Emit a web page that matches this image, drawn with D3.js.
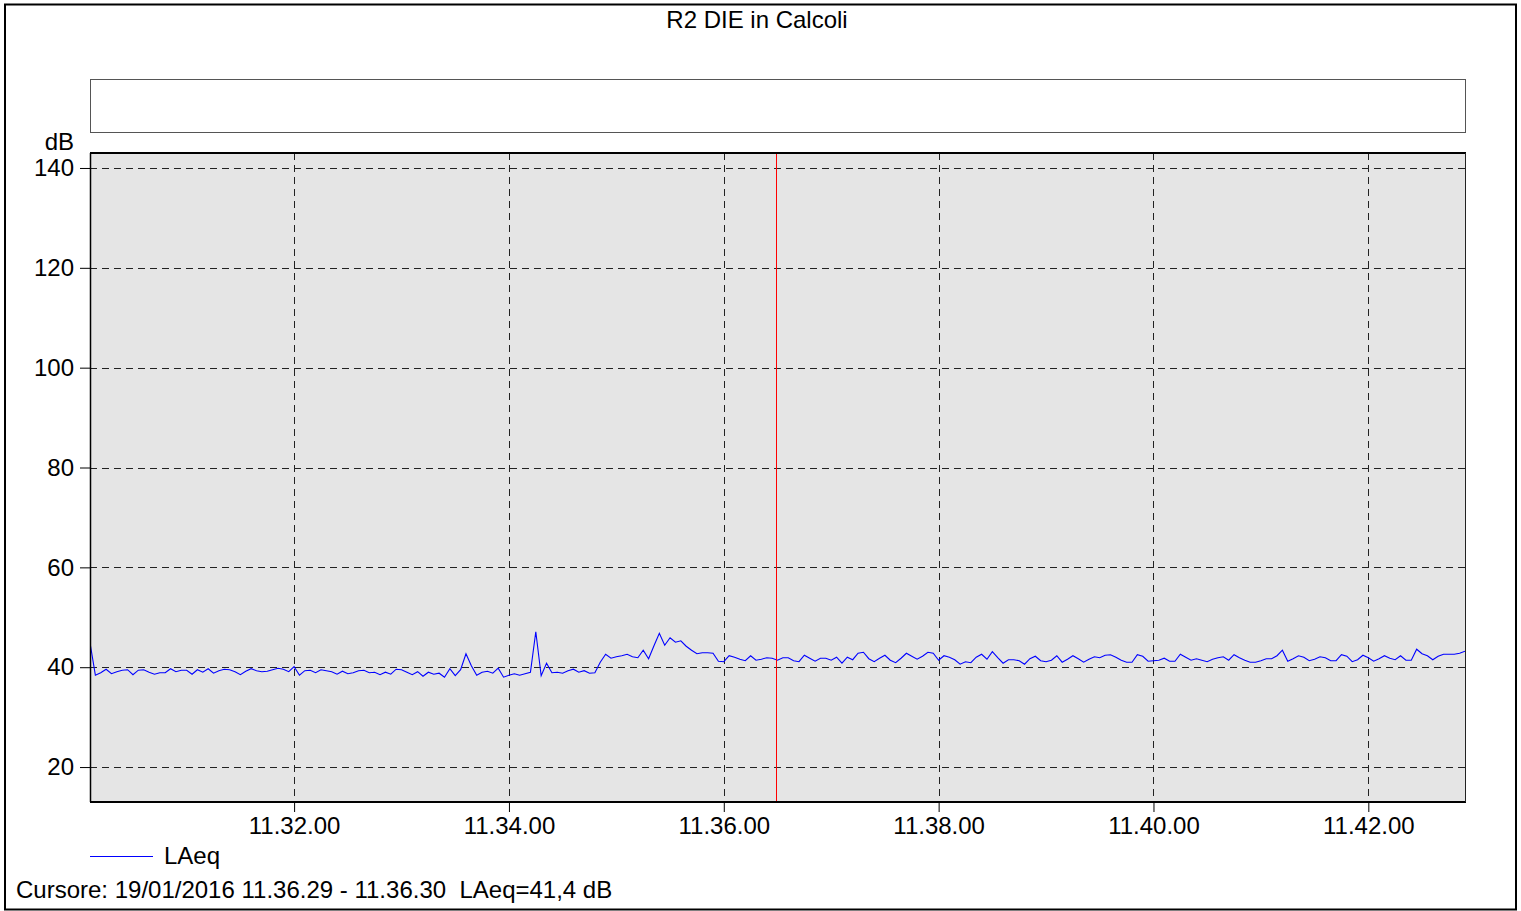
<!DOCTYPE html>
<html>
<head>
<meta charset="utf-8">
<script src="https://cdn.jsdelivr.net/npm/d3@7"></script>
<style>
  html, body { margin: 0; padding: 0; background: #fff; }
  svg { display: block; font-family: "Liberation Sans", Arial, sans-serif; }
  text { white-space: pre; }
</style>
</head>
<body>
<svg id="chart" width="1521" height="911"></svg>
<script>
// ---- data ----
const chartTitle = "R2 DIE in Calcoli";
const seriesName = "LAeq";
const yUnit = "dB";
const startTime = "11:30:06";   // first sample
const stepSeconds = 3;          // sample interval
const endTime = "11:42:54";
const cursorTime = "11:36:29.5";
const cursorText = "Cursore: 19/01/2016 11.36.29 - 11.36.30  LAeq=41,4 dB";
const yTicks = [20, 40, 60, 80, 100, 120, 140];
const xTicks = ["11:32:00", "11:34:00", "11:36:00", "11:38:00", "11:40:00", "11:42:00"];
const yDomain = [13, 143];
const laeq = [
  44.9, 38.4, 38.9, 39.6, 38.7, 39.1, 39.4, 39.5, 38.5, 39.4,
  39.5, 39.0, 38.6, 38.9, 38.9, 39.7, 39.1, 39.4, 39.4, 38.6,
  39.5, 39.0, 39.7, 38.8, 39.3, 39.6, 39.5, 39.1, 38.5, 39.2,
  39.7, 39.3, 39.1, 39.2, 39.5, 39.8, 39.6, 39.1, 40.1, 38.4,
  39.3, 39.4, 38.9, 39.5, 39.3, 39.1, 38.6, 39.2, 38.7, 38.9,
  39.3, 39.4, 38.9, 39.0, 38.5, 39.0, 38.6, 39.6, 39.5, 39.0,
  38.5, 39.1, 38.2, 39.0, 38.6, 38.8, 38.0, 39.7, 38.3, 39.5,
  42.7, 40.3, 38.4, 39.0, 39.2, 38.8, 39.8, 38.0, 38.4, 38.7,
  38.4, 38.7, 39.0, 47.1, 38.3, 40.8, 38.9, 39.0, 38.8, 39.3,
  39.6, 39.0, 39.3, 38.8, 38.9, 41.0, 42.6, 41.8, 42.1, 42.3,
  42.6, 42.1, 41.9, 43.4, 41.7, 44.3, 46.8, 44.4, 45.9, 45.0,
  45.3, 44.2, 43.4, 42.7, 42.9, 42.9, 42.8, 41.2, 41.1, 42.3,
  42.0, 41.6, 41.3, 42.3, 41.4, 41.6, 41.9, 41.8, 41.4, 41.9,
  41.9, 41.3, 41.1, 42.4, 41.8, 41.2, 41.8, 41.8, 41.4, 42.0,
  40.8, 42.0, 41.5, 42.8, 43.0, 41.7, 41.1, 41.8, 42.4, 41.4,
  40.9, 41.8, 42.8, 42.2, 41.6, 42.2, 43.0, 42.8, 41.4, 42.3,
  42.0, 41.5, 40.6, 41.1, 40.9, 42.0, 42.6, 41.6, 43.1, 41.9,
  40.8, 41.5, 41.5, 41.3, 40.6, 41.7, 42.2, 41.3, 41.1, 41.4,
  42.3, 41.0, 41.6, 42.3, 41.7, 41.0, 41.6, 42.1, 41.9, 42.4,
  42.5, 42.0, 41.4, 41.0, 41.0, 42.5, 42.2, 41.2, 41.3, 41.4,
  41.8, 41.2, 41.2, 42.6, 42.0, 41.4, 41.7, 41.4, 41.1, 41.6,
  41.9, 42.1, 41.4, 42.5, 41.9, 41.4, 41.0, 41.0, 41.3, 41.7,
  41.7, 42.3, 43.4, 41.2, 41.7, 42.3, 42.0, 41.3, 41.6, 42.1,
  41.9, 41.3, 41.3, 42.5, 42.2, 41.1, 41.5, 42.4, 41.9, 41.2,
  41.7, 42.3, 41.8, 41.5, 42.3, 41.4, 41.4, 43.6, 42.7, 42.3,
  41.5, 42.2, 42.6, 42.6, 42.6, 42.8, 43.2
];

// ---- build ----
const parseT = d3.timeParse("%H:%M:%S");
const parseTL = d3.timeParse("%H:%M:%S.%L");
const t0 = parseT(startTime);
const points = laeq.map((v, i) => ({ t: new Date(t0.getTime() + i * stepSeconds * 1000), v }));

const svg = d3.select("#chart");
const font = 24;
const ff = "Liberation Sans, Arial, sans-serif";

// outer frame
svg.append("rect").attr("x", 5).attr("y", 4.5).attr("width", 1511).attr("height", 905)
  .attr("fill", "#fff").attr("stroke", "#000").attr("stroke-width", 2);

// title
svg.append("text").attr("x", 757).attr("y", 28).attr("text-anchor", "middle")
  .attr("font-size", font).attr("fill", "#000").text(chartTitle);

const L = 90, R = 1465, T = 153, B = 802;

// empty header box
svg.append("rect").attr("x", L + 0.5).attr("y", 79.5).attr("width", R - L).attr("height", 53)
  .attr("fill", "#fff").attr("stroke", "#555").attr("stroke-width", 1);

const x = d3.scaleTime().domain([t0, parseT(endTime)]).range([L, R]);
const y = d3.scaleLinear().domain(yDomain).range([B, T]);

// plot background
svg.append("rect").attr("x", L).attr("y", T).attr("width", R - L).attr("height", B - T)
  .attr("fill", "#e5e5e5");

// grid
const grid = svg.append("g").attr("stroke", "#222").attr("stroke-width", 1)
  .attr("stroke-dasharray", "7,5").attr("shape-rendering", "crispEdges");
grid.selectAll("line.h").data(yTicks).join("line").attr("class", "h")
  .attr("x1", L).attr("x2", R).attr("y1", d => Math.round(y(d)) + 0.5).attr("y2", d => Math.round(y(d)) + 0.5);
grid.selectAll("line.v").data(xTicks.map(parseT)).join("line").attr("class", "v")
  .attr("y1", T).attr("y2", B).attr("x1", d => Math.round(x(d)) + 0.5).attr("x2", d => Math.round(x(d)) + 0.5);

// axes
const yAxis = d3.axisLeft(y).tickValues(yTicks).tickSize(10).tickPadding(6).tickFormat(d3.format("d"));
const gy = svg.append("g").attr("transform", `translate(${L},0)`).call(yAxis);
gy.select(".domain").remove();
gy.selectAll("text").attr("font-size", font).attr("font-family", ff).attr("fill", "#000");
gy.selectAll("line").attr("stroke", "#000");

const xAxis = d3.axisBottom(x).tickValues(xTicks.map(parseT)).tickSize(10).tickPadding(5)
  .tickFormat(d3.timeFormat("%H.%M.%S"));
const gx = svg.append("g").attr("transform", `translate(0,${B})`).call(xAxis);
gx.select(".domain").remove();
gx.selectAll("text").attr("font-size", font).attr("font-family", ff).attr("fill", "#000");
gx.selectAll("line").attr("stroke", "#000");

// unit
svg.append("text").attr("x", 74).attr("y", 150).attr("text-anchor", "end")
  .attr("font-size", font).attr("fill", "#000").text(yUnit);

// series line
const clipId = "plotclip";
svg.append("clipPath").attr("id", clipId).append("rect")
  .attr("x", L).attr("y", T).attr("width", R - L).attr("height", B - T);
svg.append("path").datum(points)
  .attr("clip-path", `url(#${clipId})`)
  .attr("fill", "none").attr("stroke", "#0000ff").attr("stroke-width", 1.1)
  .attr("d", d3.line().x(d => x(d.t)).y(d => y(d.v)));

// cursor
const cx = Math.round(x(parseTL(cursorTime))) + 0.5;
svg.append("line").attr("x1", cx).attr("x2", cx).attr("y1", T).attr("y2", B)
  .attr("stroke", "#ff0000").attr("stroke-width", 1).attr("shape-rendering", "crispEdges");

// plot border
svg.append("line").attr("x1", L).attr("x2", R + 1).attr("y1", T).attr("y2", T).attr("stroke", "#000").attr("stroke-width", 2);
svg.append("line").attr("x1", L).attr("x2", R + 1).attr("y1", B).attr("y2", B).attr("stroke", "#000").attr("stroke-width", 2);
svg.append("line").attr("x1", L + 0.5).attr("x2", L + 0.5).attr("y1", T).attr("y2", B).attr("stroke", "#000").attr("stroke-width", 1.5);
svg.append("line").attr("x1", R + 0.5).attr("x2", R + 0.5).attr("y1", T).attr("y2", B).attr("stroke", "#222").attr("stroke-width", 1);

// legend
svg.append("line").attr("x1", 90).attr("x2", 153).attr("y1", 856.5).attr("y2", 856.5)
  .attr("stroke", "#0000ff").attr("stroke-width", 1);
svg.append("text").attr("x", 164).attr("y", 864).attr("font-size", font).attr("fill", "#000").text(seriesName);

// cursor readout
svg.append("text").attr("x", 16).attr("y", 898).attr("font-size", font).attr("fill", "#000")
  .attr("xml:space", "preserve").text(cursorText);
</script>
</body>
</html>
